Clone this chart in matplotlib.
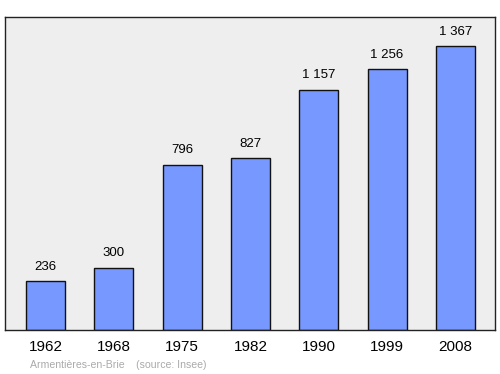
import matplotlib
matplotlib.use('Agg')
import matplotlib.pyplot as plt

years = ['1962', '1968', '1975', '1982', '1990', '1999', '2008']
population = [236, 300, 796, 827, 1157, 1256, 1367]
labels = ['236', '300', '796', '827', '1 157', '1 256', '1 367']

fig = plt.figure(figsize=(5, 3.74), dpi=100)
ax = fig.add_axes([5 / 500, 1 - 330 / 374, 490 / 500, 313 / 374])
ax.set_facecolor('#eeeeee')
x = range(len(years))
ax.bar(x, population, width=0.57, color='#7799ff', edgecolor='#111111', linewidth=1, zorder=2)
for i, (v, t) in enumerate(zip(population, labels)):
    ax.annotate(t, (i, v), xytext=(0, 6), textcoords='offset points',
                ha='center', va='bottom', fontsize=9.5, family='Liberation Sans')
ax.set_xlim(-0.593, 6.58)
ax.set_ylim(0, 1507)
ax.set_yticks([])
ax.set_xticks(list(x))
ax.set_xticklabels(years, fontsize=11, family='Liberation Sans')
ax.tick_params(axis='x', length=0, pad=7)
for s in ax.spines.values():
    s.set_color('#222222')
    s.set_linewidth(1)
fig.text(30 / 500, 1 - 365 / 374, 'Armentières-en-Brie    (source: Insee)', fontsize=7.6,
         color='#aaaaaa', family='Liberation Sans', va='center')
fig.savefig('out.png', dpi=100)
